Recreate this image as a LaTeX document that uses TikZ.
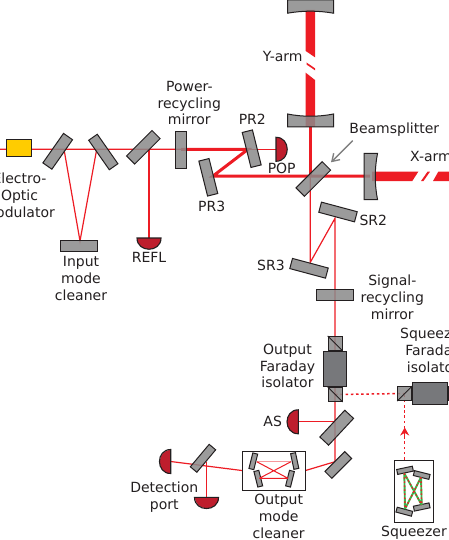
\documentclass[tikz,border=0pt]{standalone}
\usepackage{fontspec}
\setmainfont{DejaVu Sans}
\usetikzlibrary{arrows.meta,backgrounds}
\definecolor{beamred}{HTML}{ED1C24}
\definecolor{detred}{HTML}{BE1E2D}
\definecolor{mirgray}{HTML}{8A8A8A}
\definecolor{bodygray}{HTML}{77787B}
\definecolor{inkdark}{HTML}{231F20}
\definecolor{eomyellow}{HTML}{FFCC00}
\definecolor{sqgreen}{HTML}{39B54A}
\tikzset{
  mirror/.style={draw=inkdark,line width=1pt,fill=mirgray,fill opacity=.85,draw opacity=1,inner sep=0pt,minimum height=10.5pt,minimum width=36pt,rectangle},
  smallmirror/.style={mirror,minimum width=16pt,minimum height=5pt},
  curved/.style={draw=inkdark,line width=1pt,fill=mirgray,fill opacity=.85,draw opacity=1},
  label/.style={font=\fontsize{14}{16.8}\selectfont,text=inkdark,align=center,inner sep=0pt},
  thinbeam/.style={draw=beamred,line width=1.2pt},
  midbeam/.style={draw=beamred,line width=3pt},
  bigbeam/.style={fill=beamred,draw=none},
  dotbeam/.style={draw=beamred,line width=1.5pt,dash pattern=on 2.5pt off 2.7pt},
  cube/.style={draw=inkdark,line width=1pt,fill=mirgray,fill opacity=.85,draw opacity=1,inner sep=0pt,minimum width=14pt,minimum height=14pt,rectangle},
  isobody/.style={draw=inkdark,line width=1pt,fill=bodygray,inner sep=0pt,rectangle},
  cavitybox/.style={draw=inkdark,line width=1pt,fill=white,inner sep=0pt,rectangle},
  detector/.pic={\draw[draw=inkdark,line width=1.1pt,fill=detred] (-12,0) -- (12,0) .. controls (12,15) and (-12,15) .. (-12,0) -- cycle;},
}
\begin{document}
\begin{tikzpicture}[x=1pt,y=-1pt]
\useasboundingbox (0,0) rectangle (449,540);
\clip (0,0) rectangle (449,540);
% input path
\node[rectangle,draw=inkdark,line width=1pt,fill=eomyellow,minimum width=25pt,minimum height=17pt,inner sep=0pt] (eom) at (18.5,148.5) {};
\node[mirror,minimum height=11pt,rotate=55] (imca) at (57.7,151.3) {};
\node[mirror,rotate=-55] (imcb) at (103.3,152) {};
\node[mirror,minimum width=37pt,minimum height=11pt] (imcc) at (79.3,246.3) {};
\node[mirror,minimum height=11.5pt,rotate=45] (reflm) at (143.3,147.3) {};
\node[mirror,minimum width=37pt,minimum height=11pt,rotate=90] (prm) at (181,150) {};
\node[mirror,rotate=-76] (prb) at (251.7,148.7) {};
\node[mirror,rotate=-76] (prc) at (208.3,177.3) {};
\node[mirror,minimum width=37pt,minimum height=12pt,rotate=45] (bs) at (313.3,179) {};
\node[mirror,minimum width=37pt,rotate=-15] (srb) at (338,212) {};
\node[mirror,minimum width=37pt,rotate=-15] (src) at (309,268.3) {};
\node[mirror,minimum width=37pt,minimum height=11pt] (srm) at (335.3,295) {};
% curved test masses
\draw[curved] (287.5,0) -- (333.5,0) -- (333.5,13.2) .. controls (318,10.5) and (303,10.5) .. (287.5,13.2) -- cycle;
\draw[curved] (287.5,114) .. controls (303,117) and (318,117) .. (333.5,114) -- (333.5,127) -- (287.5,127) -- cycle;
\draw[curved] (364,153.5) -- (377.5,153.5) .. controls (374.5,169) and (374.5,184) .. (377.5,199.5) -- (364,199.5) -- cycle;
\coordinate (itmybot) at (310.3,127);
\coordinate (itmx) at (370,176);
% output chain
\node[isobody,minimum width=23.5pt,minimum height=35pt] (ofi) at (335.2,369) {};
\node[cube,anchor=south] (ofia) at (ofi.north) {};
\node[cube,anchor=north] (ofib) at (ofi.south) {};
\node[mirror,minimum width=36.6pt,minimum height=12pt,rotate=47] (asm) at (336.7,427.7) {};
\node[mirror,minimum width=28pt,minimum height=9.7pt,rotate=45] (foldm) at (338.3,465) {};
\node[mirror,minimum width=29.3pt,minimum height=8.5pt,rotate=50] (detm) at (203,458.3) {};
\node[cavitybox,minimum width=62.7pt,minimum height=39pt] (omc) at (273.7,470.5) {};
\node[cavitybox,minimum width=39.3pt,minimum height=62.3pt] (sqz) at (413.7,491.2) {};
\node[isobody,minimum width=34.6pt,minimum height=22.3pt] (sfi) at (430,393.5) {};
\node[cube,anchor=east] (sfia) at (sfi.west) {};
\node[cube,anchor=west] (sfib) at (sfi.east) {};
% OMC mirrors
\node[smallmirror,rotate=76] (oma) at (253.3,461.3) {};
\node[smallmirror,rotate=-78] (omb) at (294.7,461) {};
\node[smallmirror,rotate=-76] (omc1) at (258.3,478.7) {};
\node[smallmirror,rotate=76] (omd) at (290,478.7) {};
\coordinate (oa) at (256.7,461.7);
\coordinate (ob) at (291,461.7);
\coordinate (oc) at (288,478.3);
\coordinate (od) at (259.3,478.3);
\draw[thinbeam,line width=1pt] (oa) -- (oc) (ob) -- (od) (od) -- (oc);
\draw[thinbeam,line width=1pt,draw opacity=.45] (oa) -- (ob);
% squeezer mirrors
\node[smallmirror,rotate=12] (sma) at (405,470.3) {};
\node[smallmirror,rotate=-14] (smb) at (421.7,475) {};
\node[smallmirror,rotate=-15] (smc) at (404.3,511.7) {};
\node[smallmirror,rotate=12] (smd) at (421.7,507) {};
\coordinate (qa) at (404.3,473.3);
\coordinate (qb) at (421,477.3);
\coordinate (qc) at (405,509);
\coordinate (qd) at (421.7,505);
\draw[draw=sqgreen,line width=1.9pt] (qa) -- (qc) (qb) -- (qd) (qa) -- (qd) (qb) -- (qc);
\draw[draw=beamred,line width=1.3pt,dash pattern=on 1.5pt off 2.5pt] (qa) -- (qc) (qb) -- (qd) (qa) -- (qd) (qb) -- (qc);
% detectors
\coordinate (refl) at (149,238);
\coordinate (pop) at (276,149.3);
\coordinate (asd) at (298.3,421.8);
\coordinate (detl) at (170.7,461.5);
\coordinate (detd) at (206.5,497.3);
\pic at (refl) {detector};
\pic[rotate=90] at (pop) {detector};
\pic[rotate=-90] at (asd) {detector};
\pic[rotate=-90] at (detl) {detector};
\pic at (detd) {detector};
% beams below the optics
\begin{pgfonlayer}{background}
\coordinate (w) at (0,149.3);
\coordinate (ma) at (64,149.3);
\coordinate (mb) at (96.7,149.3);
\coordinate (mc) at (80,241);
\coordinate (rh) at (149,149.3);
\coordinate (prmh) at (181,149.3);
\coordinate (prbh) at (248,149.3);
\coordinate (prch) at (213,176);
\coordinate (bsh) at (310.3,176);
\coordinate (src1) at (310.3,262.3);
\coordinate (srb1) at (335,218.3);
\coordinate (asl) at (335,421.8);
\coordinate (foldh) at (335,461.7);
\coordinate (detlh) at (206.5,461.7);
\draw[thinbeam] (w) -- (rh) -- (prmh) (ma) -- (mc) -- (mb);
\draw[thinbeam] (rh) -- (refl);
\draw[midbeam] (prmh) -- (prbh) -- (prch) -- (bsh) -- (itmx);
\draw[thinbeam] (prbh) -- (pop);
\draw[midbeam,line width=2.4pt] (itmybot) -- (bsh);
\draw[thinbeam] (bsh) -- (src1) -- (srb1) -- (asl) -- (foldh) -- (omc.east);
\draw[thinbeam] (asl) -- (asd);
\draw[thinbeam] (omc.west) -- (detl);
\draw[thinbeam] (detlh) -- (detd);
% Y arm
\fill[bigbeam] (305.7,10) -- (315,10) -- (315,57.3) -- (305.7,51) -- cycle;
\fill[bigbeam] (306.5,62.5) -- (315,68.3) -- (315,70.3) -- (306.5,64.5) -- cycle;
\fill[bigbeam] (305.7,72.7) -- (315,80) -- (315,127) -- (305.7,127) -- cycle;
% X arm
\fill[bigbeam] (372,171.7) -- (418.3,171.7) -- (412.3,181) -- (372,181) -- cycle;
\fill[bigbeam] (427.5,171.7) -- (430,171.7) -- (423.5,181) -- (421,181) -- cycle;
\fill[bigbeam] (438.3,171.7) -- (449,171.7) -- (449,181) -- (433,181) -- cycle;
% dotted squeezed path
\coordinate (dotstart) at (ofib.center);
\coordinate (sqin) at (sfia.center);
\coordinate (sqout) at (sfia.center |- sqz.north);
\coordinate (tipbase) at (sfia.center |- 0,436);
\coordinate (tiptop) at (sfia.center |- 0,427.5);
\draw[dotbeam] (dotstart) -- (sqin);
\draw[dotbeam] (sqout) -- (sqin);
\draw[draw=beamred,line width=1pt,-{Stealth[length=8pt,width=9pt]}] (tipbase) -- (tiptop);
\end{pgfonlayer}
% cube diagonals
\draw[draw=inkdark,line width=.8pt] (ofia.north west) -- (ofia.south east);
\draw[draw=inkdark,line width=.8pt] (ofib.north west) -- (ofib.south east);
\draw[draw=inkdark,line width=.8pt] (sfia.south west) -- (sfia.north east);
% labels
\node[label] (leom) at (19.5,195) {Electro-\\Optic\\Modulator};
\node[label] (limc) at (81,278.7) {Input\\mode\\cleaner};
\node[label] (lrefl) at (149,257.7) {REFL};
\node[label] (lprm) at (189.3,103) {Power-\\recycling\\mirror};
\node[label] (lprb) at (252.3,119) {PR2};
\node[label] (lprc) at (211.7,206) {PR3};
\node[label] (lpop) at (281.7,168) {POP};
\node[label] (lyarm) at (282.7,56.7) {Y-arm};
\node[label] (lbs) at (394.3,130) {Beamsplitter};
\node[label,anchor=west] (lxarm) at (410,156.7) {X-arm};
\node[label] (lsrb) at (373.3,220) {SR2};
\node[label] (lsrc) at (271,265.3) {SR3};
\node[label] (lsrm) at (392.3,297.3) {Signal-\\recycling\\mirror};
\node[label] (lofi) at (287.5,366) {Output\\Faraday\\isolator};
\node[label] (lsfi) at (433,350.5) {Squeezer\\Faraday\\isolator};
\node[label] (las) at (272.7,421) {AS};
\node[label] (ldet) at (164.3,497) {Detection\\port};
\node[label] (lomc) at (278.7,516.5) {Output\\mode\\cleaner};
\node[label] (lsqz) at (414,532.7) {Squeezer};
\coordinate (bsarrowfrom) at (352.7,140.7);
\coordinate (bsarrowto) at (331,162.3);
\draw[draw=gray,line width=1.4pt,-{Straight Barb[length=7pt,width=9pt]}] (bsarrowfrom) -- (bsarrowto);
\end{tikzpicture}
\end{document}
